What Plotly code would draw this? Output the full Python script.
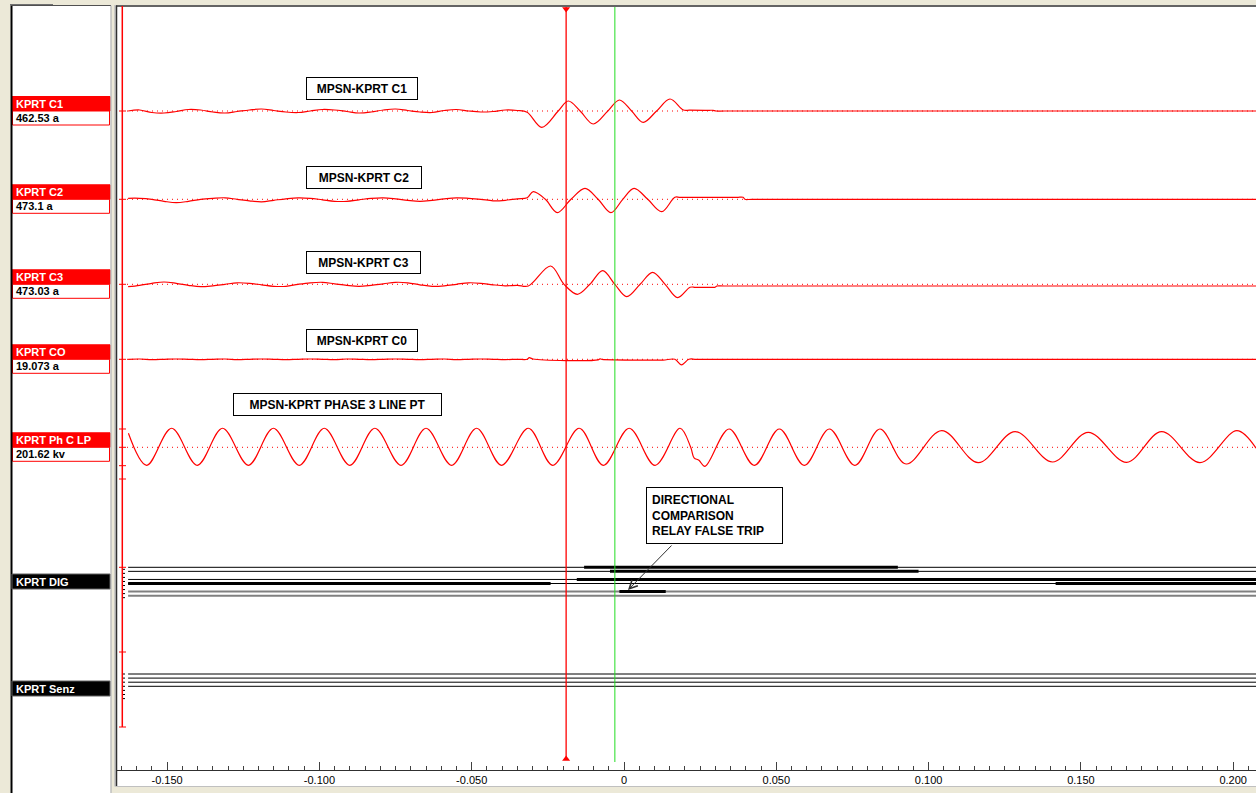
import plotly.graph_objects as go

# ---------------- data ----------------
T_START = -0.1628
T_END = 0.2100

tick_vals = [-0.15, -0.10, -0.05, 0.0, 0.05, 0.10, 0.15, 0.20]
tick_text = ["-0.150", "-0.100", "-0.050", "0", "0.050", "0.100", "0.150", "0.200"]

cursor_red_t = -0.0190
cursor_green_t = -0.0030

# pre-fault sample times (s)
noise_t = [-0.1628, -0.1590, -0.1550, -0.1510, -0.1470, -0.1430, -0.1390, -0.1350,
           -0.1310, -0.1270, -0.1230, -0.1190, -0.1150, -0.1110, -0.1070, -0.1030,
           -0.0990, -0.0950, -0.0910, -0.0870, -0.0830, -0.0790, -0.0750, -0.0710,
           -0.0670, -0.0630, -0.0590, -0.0550, -0.0510, -0.0470, -0.0430, -0.0390,
           -0.0350]

# C1 current (A)
c1_noise = [0, 45, -68, -90, -23, 68, 45, -45, -90, -23, 45, 90, 23, -45, -68, 0,
            68, 45, -23, -90, -45, 45, 90, 23, -45, -68, 23, 68, 0, -45, -23, 45, 23]
c1_fault_t = [-0.0318, -0.0270, -0.0216, -0.0183, -0.0144, -0.0101, -0.0053, -0.0015,
              0.0025, 0.0063, 0.0107, 0.0151, 0.0195, 0.0215, 0.0280, 0.0292, 0.0302,
              0.0330, T_END]
c1_fault_v = [-58, -735, 0, 450, 0, -585, 0, 495, 0, -510, 0, 540, 45, 35, 32, 32, 0,
              0, 0]

# C2 current (A)
c2_noise = [45, 45, 0, -90, -153, -90, 0, 45, 68, 0, -68, -113, -45, 23, 68, 45,
            -23, -90, -90, -23, 45, 68, 23, -45, -90, -45, 23, 68, 45, 0, -68, -45, 23]
c2_fault_t = [-0.0318, -0.0298, -0.0258, -0.0219, -0.0174, -0.0128, -0.0085, -0.0043,
              -0.0004, 0.0033, 0.0078, 0.0124, 0.0167, 0.0185, 0.0370, 0.0391, 0.0397,
              0.0420, T_END]
c2_fault_v = [68, 347, 0, -599, 0, 495, 0, -599, 0, 495, 0, -558, 90, 90, 90, 90, 0,
              0, 0]

# C3 current (A)
c3_noise = [-108, -45, 45, 104, 45, -45, -108, -68, 0, 68, 45, -23, -90, -90, 0, 68,
            90, 23, -45, -90, -45, 23, 90, 68, -23, -90, -68, 0, 68, 45, -23, -68, -45]
c3_fault_t = [-0.0314, -0.0241, -0.0197, -0.0153, -0.0112, -0.0070, -0.0030, 0.0009,
              0.0053, 0.0094, 0.0135, 0.0176, 0.0217, 0.0235, 0.0285, 0.0299, 0.0305,
              0.0330, T_END]
c3_fault_v = [-77, 824, 0, -450, 0, 617, 0, -554, 0, 540, 0, -599, -135, -135, -135,
              -135, -77, -77, -77]

# C0 residual current (A)
c0_noise = [0, 1.2, -1.2, 0, 1.2, 0, -1.2, 0, 1.2, -1.2, 0, 1.2, 0, -1.2, 0, 1.2,
            0, -1.2, 1.2, 0, -1.2, 0, 1.2, 0, -1.2, 0, 1.2, -1.2, 0, 1.2, 0, -1.2, 0]
c0_fault_t = [-0.0318, -0.0311, -0.0299, -0.0085, -0.0079, -0.0072, 0.0076, 0.0128,
              0.0167, 0.0189, 0.0213, 0.0240, T_END]
c0_fault_v = [0, 6.4, 1.2, -2, 2, 0, -3.2, -3.2, 0, -22, 0, 0, 0]

# Phase C line voltage (kV) - peaks / troughs
phc_t = [-0.1627, -0.1567, -0.1485, -0.1401, -0.1318, -0.1233, -0.1151, -0.1066,
         -0.0984, -0.0900, -0.0818, -0.0732, -0.0650, -0.0566, -0.0484, -0.0402,
         -0.0314, -0.0234, -0.0147, -0.0068, 0.0017, 0.0102, 0.0184, 0.0219,
         0.0230, 0.0246, 0.0266, 0.0345, 0.0428, 0.0510, 0.0592, 0.0674,
         0.0758, 0.0840, 0.0926, 0.1043, 0.1163, 0.1284, 0.1407, 0.1524,
         0.1650, 0.1765, 0.1891, 0.2012, 0.2075]
phc_v = [216, -277, 293, -277, 293, -277, 293, -277,
         293, -277, 293, -277, 293, -277, 293, -277,
         293, -277, 293, -277, 293, -277, 293, 0,
         -162, -200, -293, 282, -277, 282, -277, 282,
         -277, 282, -257, 257, -236, 242, -226, 231,
         -231, 242, -236, 257, -15]

channel_names = ["KPRT C1", "KPRT C2", "KPRT C3", "KPRT CO", "KPRT Ph C LP"]
channel_values = ["462.53 a", "473.1 a", "473.03 a", "19.073 a", "201.62 kv"]
channel_titles = ["MPSN-KPRT C1", "MPSN-KPRT C2", "MPSN-KPRT C3", "MPSN-KPRT C0",
                  "MPSN-KPRT PHASE 3 LINE PT"]

# digital channels: slot index, on-interval starts / ends (s)
dig_slots = [0, 1, 3, 4, 6, 7]
dig_on_start = [[-0.0131], [-0.0046], [-0.0155], [T_START, 0.1417], [-0.0015], []]
dig_on_end = [[0.0899], [0.0967], [T_END], [-0.0241, T_END], [0.0137], []]
senz_slots = [0, 1, 2, 3]

note_text = "DIRECTIONAL<br>COMPARISON<br>RELAY FALSE TRIP"

# ---------------- layout helpers (pixels -> paper) ----------------
W, H = 1256, 793
PL, PT, PB = 117, 6, 770
PW, PHh = W - PL, PB - PT
PX_PER_S = 3046.0
X0 = 0 - (624 - PL) / PX_PER_S
X1 = X0 + PW / PX_PER_S


def fx(px):
    return (px - PL) / PW


def fy(py):
    return (PB - py) / PHh


RED = "#FF0000"
BEIGE = "#ECE9D8"
FONT = "Liberation Sans, Arial, sans-serif"

# channel display: center pixel, half height px, units per px
ch_center = [111.0, 199.3, 284.3, 359.3, 447.3]
ch_half = [45, 45, 42, 30, 30]
ch_upp = [45.0, 45.0, 45.0, 4.0, 15.4]
ch_box = [(306, 418, 77, 100), (306, 422, 166, 189), (306, 421, 251, 274),
          (306, 418, 329, 352), (233, 442, 393, 416)]

series_t = [noise_t + c1_fault_t, noise_t + c2_fault_t, noise_t + c3_fault_t,
            noise_t + c0_fault_t, phc_t]
series_v = [c1_noise + c1_fault_v, c2_noise + c2_fault_v, c3_noise + c3_fault_v,
            c0_noise + c0_fault_v, phc_v]

fig = go.Figure()
layout_axes = {}
shapes = []
annotations = []

for i in range(5):
    yname = "y" if i == 0 else f"y{i + 1}"
    lname = "yaxis" if i == 0 else f"yaxis{i + 1}"
    c, h, u = ch_center[i], ch_half[i], ch_upp[i]
    layout_axes[lname] = dict(domain=[fy(c + h), fy(c - h)], range=[-h * u, h * u],
                              visible=False, fixedrange=True)
    # dotted zero line
    shapes.append(dict(type="line", xref="paper", yref=yname, x0=fx(127), x1=1,
                       y0=0, y1=0, line=dict(color=RED, width=1, dash="1px,4px"),
                       layer="below"))
    fig.add_trace(go.Scatter(x=series_t[i], y=series_v[i], mode="lines",
                             line=dict(color=RED, width=1.2, shape="spline"),
                             yaxis=yname, xaxis="x", showlegend=False,
                             hoverinfo="skip"))
    # red tick on channel axis
    shapes.append(dict(type="line", xref="paper", yref=yname, x0=fx(119), x1=fx(126),
                       y0=0, y1=0, line=dict(color=RED, width=1)))
    # left label boxes
    shapes.append(dict(type="rect", xref="paper", yref="paper", x0=fx(12), x1=fx(110),
                       y0=fy(c), y1=fy(c - 14.5), fillcolor=RED,
                       line=dict(color=RED, width=1)))
    shapes.append(dict(type="rect", xref="paper", yref="paper", x0=fx(12.5), x1=fx(109.5),
                       y0=fy(c + 14), y1=fy(c), fillcolor="white",
                       line=dict(color=RED, width=1)))
    annotations.append(dict(xref="paper", yref="paper", x=fx(13.5), y=fy(c - 7.0),
                            xanchor="left", yanchor="middle", showarrow=False,
                            text=f"<b>{channel_names[i]}</b>",
                            font=dict(family=FONT, size=11, color="white")))
    annotations.append(dict(xref="paper", yref="paper", x=fx(13.5), y=fy(c + 7.0),
                            xanchor="left", yanchor="middle", showarrow=False,
                            text=f"<b>{channel_values[i]}</b>",
                            font=dict(family=FONT, size=11, color="black")))
    # title boxes
    bx0, bx1, by0, by1 = ch_box[i]
    annotations.append(dict(xref="paper", yref="paper", x=fx((bx0 + bx1) / 2),
                            y=fy((by0 + by1) / 2), xanchor="center", yanchor="middle",
                            showarrow=False, text=f"<b>{channel_titles[i]}</b>",
                            width=bx1 - bx0 - 6, height=by1 - by0 - 6, borderpad=2,
                            bordercolor="black", borderwidth=1, bgcolor="white",
                            font=dict(family=FONT, size=12, color="black")))

# Ph C extra ticks on axis
for pv in [282, -283]:
    shapes.append(dict(type="line", xref="paper", yref="y5", x0=fx(119), x1=fx(126),
                       y0=pv, y1=pv, line=dict(color=RED, width=1)))

# digital axes
DIG_TOP, DIG_PITCH = 567.3, 4.05
SENZ_TOP, SENZ_PITCH = 674.0, 4.1
layout_axes["yaxis6"] = dict(domain=[fy(605), fy(557)],
                             range=[(605 - DIG_TOP) / DIG_PITCH, (557 - DIG_TOP) / DIG_PITCH],
                             visible=False, fixedrange=True)
layout_axes["yaxis7"] = dict(domain=[fy(700), fy(664)],
                             range=[(700 - SENZ_TOP) / SENZ_PITCH, (664 - SENZ_TOP) / SENZ_PITCH],
                             visible=False, fixedrange=True)
layout_axes["yaxis8"] = dict(domain=[0, 1], range=[0, 1], visible=False, fixedrange=True)

for k, s in enumerate(dig_slots):
    gray = s >= 6
    fig.add_trace(go.Scatter(x=[T_START, T_END], y=[s, s], mode="lines",
                             line=dict(color="#808080" if gray else "black",
                                       width=2 if gray else 1),
                             yaxis="y6", showlegend=False, hoverinfo="skip"))
    for a, b in zip(dig_on_start[k], dig_on_end[k]):
        fig.add_trace(go.Scatter(x=[a, b], y=[s, s], mode="lines",
                                 line=dict(color="black", width=3),
                                 yaxis="y6", showlegend=False, hoverinfo="skip"))
for s in senz_slots:
    fig.add_trace(go.Scatter(x=[T_START, T_END], y=[s, s], mode="lines",
                             line=dict(color="black", width=1),
                             yaxis="y7", showlegend=False, hoverinfo="skip"))

# small black ticks for digital sub-channels
for s in range(8):
    shapes.append(dict(type="line", xref="paper", yref="y6", x0=fx(122), x1=fx(125),
                       y0=s * 1.0 + 0.5, y1=s * 1.0 + 0.5, line=dict(color="black", width=1)))
    shapes.append(dict(type="line", xref="paper", yref="y7", x0=fx(122), x1=fx(125),
                       y0=s * 1.0, y1=s * 1.0, line=dict(color="black", width=1)))

# cursor triangles
fig.add_trace(go.Scatter(x=[cursor_red_t, cursor_red_t], y=[fy(9), fy(759)],
                         mode="markers", yaxis="y8", cliponaxis=False,
                         marker=dict(symbol=["triangle-down", "triangle-up"], size=7,
                                     color=RED), showlegend=False, hoverinfo="skip"))

# ---------------- decorations ----------------
deco = [
    dict(type="rect", x0=fx(0), x1=fx(10.5), y0=fy(H), y1=fy(0), fillcolor=BEIGE),
    dict(type="rect", x0=fx(111.5), x1=fx(114.5), y0=fy(H), y1=fy(0), fillcolor=BEIGE),
    dict(type="rect", x0=fx(0), x1=fx(W), y0=fy(5), y1=fy(0), fillcolor=BEIGE),
    dict(type="rect", x0=fx(114), x1=fx(W), y0=fy(H), y1=fy(786.5), fillcolor=BEIGE),
    dict(type="rect", x0=fx(10), x1=fx(53), y0=fy(5.5), y1=fy(4), fillcolor="#707070"),
]
for d in deco:
    d.update(xref="paper", yref="paper", line=dict(width=0), layer="below")
    shapes.append(d)

lines_px = [
    (11.5, 5.5, 11.5, H, "black", 2),
    (11, 5.5, 111, 5.5, "#505050", 1),
    (111, 5.5, 111, H, "#A0A0A0", 1),
    (115, 5, 115, 786.5, "#A0A0A0", 1),
    (116.5, 5.5, 116.5, 786.5, "#303030", 1.5),
    (116, 6, W, 6, "#303030", 1.5),
    (116, 786.5, W, 786.5, "#C0C0C0", 1),
    (122.3, 6, 122.3, 727, RED, 1.5),
    (119, 567.3, 126, 567.3, RED, 1),
    (119, 652, 126, 652, RED, 1),
    (119, 727, 126, 727, RED, 1),
    (119, 479, 126, 479, RED, 1),
]
for x0, y0, x1, y1, col, w in lines_px:
    shapes.append(dict(type="line", xref="paper", yref="paper", x0=fx(x0), x1=fx(x1),
                       y0=fy(y0), y1=fy(y1), line=dict(color=col, width=w)))

for txt, cy in [("KPRT DIG", 581.5), ("KPRT Senz", 688.5)]:
    shapes.append(dict(type="rect", xref="paper", yref="paper", x0=fx(12), x1=fx(110),
                       y0=fy(cy + 7.5), y1=fy(cy - 7.5), fillcolor="black",
                       line=dict(color="#606060", width=1)))
    annotations.append(dict(xref="paper", yref="paper", x=fx(13.5), y=fy(cy),
                            xanchor="left", yanchor="middle", showarrow=False,
                            text=f"<b>{txt}</b>",
                            font=dict(family=FONT, size=11, color="white")))

# cursors
shapes.append(dict(type="line", xref="x", yref="paper", x0=cursor_red_t, x1=cursor_red_t,
                   y0=fy(760), y1=fy(7), line=dict(color=RED, width=1.3), layer="above"))
shapes.append(dict(type="line", xref="x", yref="paper", x0=cursor_green_t,
                   x1=cursor_green_t, y0=fy(762), y1=fy(7),
                   line=dict(color="#22DD22", width=1), layer="above"))

# note box + arrow
annotations.append(dict(xref="paper", yref="paper", x=fx(714.5), y=fy(515.5),
                        xanchor="center", yanchor="middle", showarrow=False,
                        text="<b>" + note_text.replace("<br>", "</b><br><b>") + "</b>",
                        align="left", width=125, borderpad=5, bordercolor="black",
                        borderwidth=1, bgcolor="white",
                        font=dict(family=FONT, size=12, color="black")))
annotations.append(dict(xref="paper", yref="paper", x=fx(628), y=fy(590), text="",
                        showarrow=True, ax=45, ay=-46, arrowhead=5, arrowsize=1.6,
                        arrowwidth=1, arrowcolor="#303030"))

fig.update_layout(
    width=W, height=H,
    margin=dict(l=PL, r=0, t=PT, b=H - PB, pad=0),
    paper_bgcolor="white", plot_bgcolor="rgba(0,0,0,0)",
    showlegend=False,
    xaxis=dict(range=[X0, X1], anchor="free", position=0, showgrid=False,
               zeroline=False, showline=True, linecolor="#303030", linewidth=1,
               tickmode="array", tickvals=tick_vals, ticktext=tick_text,
               ticks="inside", ticklen=8, tickcolor="#404040", tickwidth=1,
               minor=dict(tickmode="linear", tick0=0, dtick=0.005, ticks="inside",
                          ticklen=4, tickcolor="#404040", showgrid=False),
               tickfont=dict(family=FONT, size=11, color="black"), fixedrange=True),
    shapes=shapes,
    annotations=annotations,
    **layout_axes,
)

fig.write_html("out.html", config={"displayModeBar": False},
               post_script="document.body.style.margin='0';"
               "document.body.style.overflow='hidden';")
